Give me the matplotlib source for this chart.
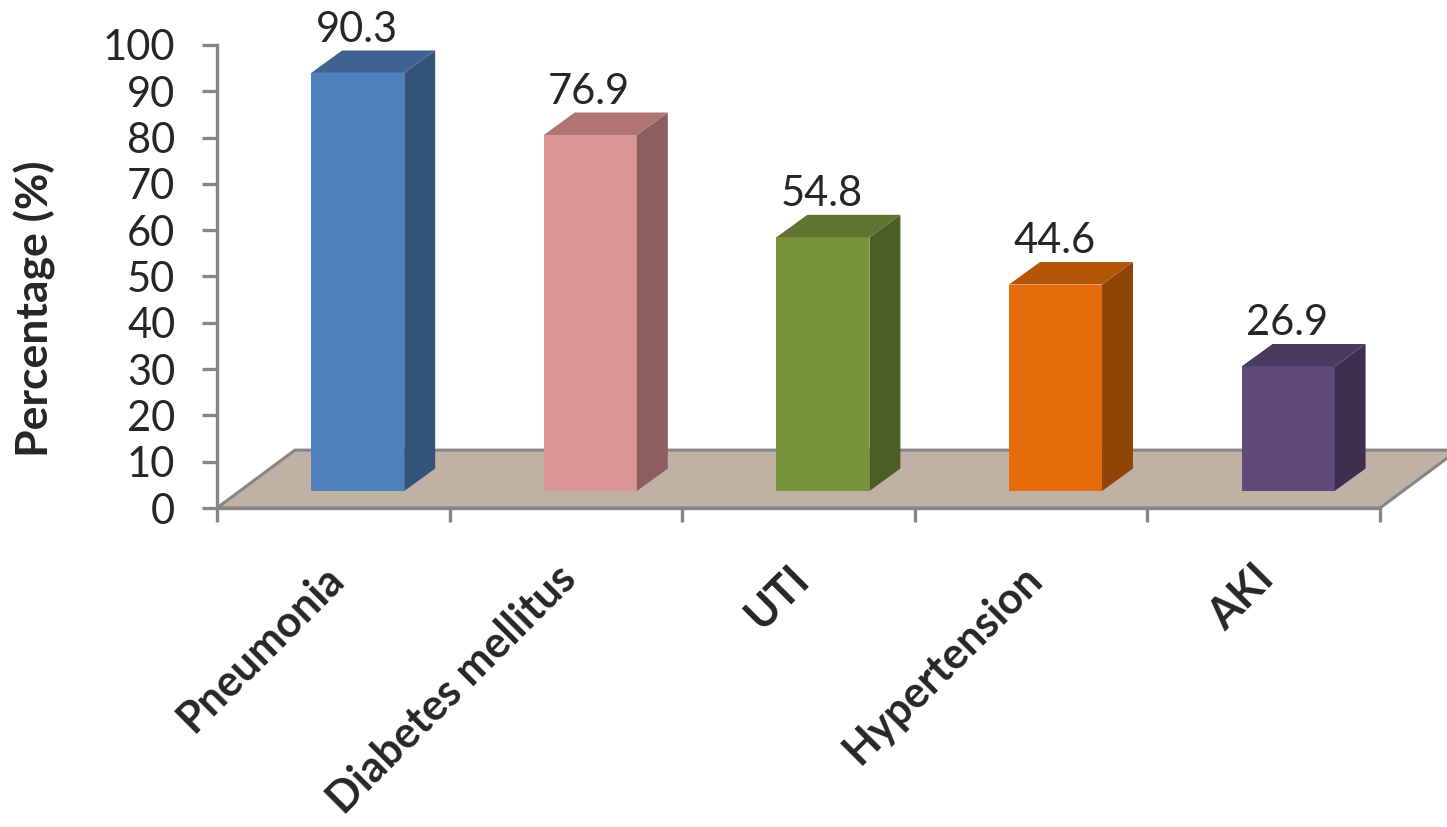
import matplotlib
matplotlib.use("Agg")
import matplotlib.pyplot as plt
from matplotlib.patches import Polygon

categories = ["Pneumonia", "Diabetes mellitus", "UTI", "Hypertension", "AKI"]
percentages = [90.3, 76.9, 54.8, 44.6, 26.9]
y_ticks = list(range(0, 101, 10))

front_colors = ["#4F81BD", "#D99694", "#77933C", "#E46C0A", "#604A7B"]
top_colors = ["#3E6391", "#AE7573", "#5E742F", "#B35507", "#4B3A60"]
side_colors = ["#325479", "#8C5E5D", "#4B5E26", "#904406", "#3E2F4F"]
FLOOR = "#BFB1A3"
AXIS = "#868686"
TEXT = "#262626"

W, H = 1447, 827
plt.rcParams["font.family"] = ["Lato", "DejaVu Sans"]

fig = plt.figure(figsize=(W / 100, H / 100), dpi=100, facecolor="white")
ax = fig.add_axes([217 / W, 1 - 508 / H, (1380 - 217) / W, (508 - 45) / H])
ax.set_xlim(0, 5)
ax.set_ylim(0, 100)

# Pseudo-3D geometry, in data units
bar_width = 0.40
bar_inset = 0.405
base = 3.67
depth_x = 0.133
depth_y = 4.85
floor_dx = 0.335
floor_dy = 12.5

floor = Polygon([(0, 0), (floor_dx, floor_dy), (5 + floor_dx, floor_dy), (5, 0)],
                closed=True, facecolor=FLOOR, edgecolor=AXIS, linewidth=2.2,
                clip_on=False, zorder=1, joinstyle="round")
ax.add_patch(floor)

for i, value in enumerate(percentages):
    x0 = i + bar_inset
    x1 = x0 + bar_width
    top = base + value
    ax.bar(x0, value, width=bar_width, bottom=base, align="edge",
           color=front_colors[i], linewidth=0, zorder=3, clip_on=False)
    ax.add_patch(Polygon([(x1, base), (x1 + depth_x, base + depth_y),
                          (x1 + depth_x, top + depth_y), (x1, top)],
                         closed=True, facecolor=side_colors[i], linewidth=0,
                         zorder=3, clip_on=False))
    ax.add_patch(Polygon([(x0, top), (x0 + depth_x, top + depth_y),
                          (x1 + depth_x, top + depth_y), (x1, top)],
                         closed=True, facecolor=top_colors[i], linewidth=0,
                         zorder=3, clip_on=False))
    ax.text(x0 + bar_width / 2 - 0.005, top + depth_y + 0.4, f"{value:.1f}",
            ha="center", va="bottom", fontsize=30, color=TEXT, zorder=4, clip_on=False)

for side in ("top", "right"):
    ax.spines[side].set_visible(False)
for side in ("left", "bottom"):
    ax.spines[side].set_color(AXIS)
    ax.spines[side].set_linewidth(2.4)
    ax.spines[side].set_zorder(2)

ax.set_yticks(y_ticks)
ax.tick_params(axis="y", length=11, width=2.4, color=AXIS, labelsize=30,
               labelcolor=TEXT, pad=19)
ax.set_xticks(range(6))
ax.set_xticklabels([])
ax.tick_params(axis="x", which="major", length=10, width=2.4, color=AXIS)
# Category labels hang from invisible ticks just left of each slot centre
ax.set_xticks([i + 0.455 for i in range(5)], minor=True)
ax.set_xticklabels(categories, minor=True, rotation=45, ha="right", va="top",
                   rotation_mode="anchor", fontsize=31, fontweight="bold", color=TEXT)
ax.tick_params(axis="x", which="minor", length=0, pad=36)

fig.text(35 / W, 1 - 309 / H, "Percentage (%)", rotation=90, ha="center", va="center",
         fontsize=32, fontweight="bold", color=TEXT)

fig.savefig("out.png", dpi=100, facecolor="white")
